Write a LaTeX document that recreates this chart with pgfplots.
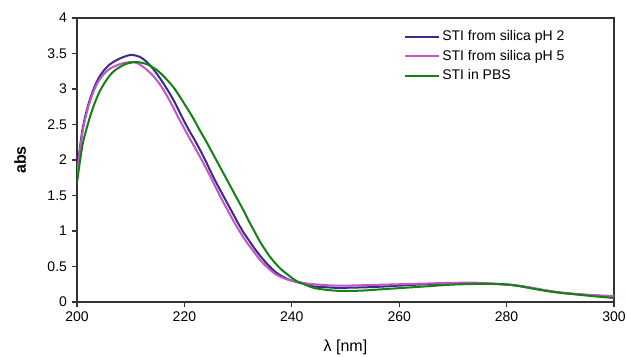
\documentclass[border=0pt]{standalone}
\usepackage{pgfplots}
\pgfplotsset{compat=1.18}
\usepackage{pgfplotstable}
\usepackage{fontspec}
\setmainfont{Liberation Sans}
\definecolor{cblue}{HTML}{3A2A90}
\definecolor{cpink}{HTML}{C455C4}
\definecolor{cgreen}{HTML}{138213}

\pgfplotstableread{
x y
200 1.84
201 2.42
202 2.75
203 2.98
204 3.15
205 3.26
206 3.34
207 3.39
208 3.43
209 3.46
210 3.48
211 3.47
212 3.44
213 3.38
214 3.30
215 3.20
216 3.09
217 2.97
218 2.84
219 2.69
220 2.54
221 2.40
222 2.27
223 2.13
224 1.98
225 1.82
226 1.67
227 1.53
228 1.39
229 1.25
230 1.11
231 0.98
232 0.87
233 0.76
234 0.66
235 0.57
236 0.49
237 0.42
238 0.37
239 0.33
240 0.30
242 0.26
244 0.22
246 0.21
248 0.20
250 0.20
255 0.21
260 0.23
265 0.25
270 0.26
275 0.26
280 0.245
283 0.22
286 0.18
290 0.13
295 0.10
300 0.075
}\bluedata

\pgfplotstableread{
x y
200 1.80
201 2.38
202 2.72
203 2.95
204 3.11
205 3.21
206 3.28
207 3.32
208 3.35
209 3.37
210 3.38
211 3.37
212 3.33
213 3.27
214 3.20
215 3.11
216 3.00
217 2.87
218 2.73
219 2.58
220 2.44
221 2.30
222 2.17
223 2.03
224 1.89
225 1.74
226 1.59
227 1.44
228 1.30
229 1.16
230 1.03
231 0.91
232 0.80
233 0.70
234 0.60
235 0.52
236 0.45
237 0.39
238 0.35
239 0.32
240 0.30
242 0.27
244 0.25
246 0.24
248 0.23
250 0.23
255 0.24
260 0.25
265 0.26
270 0.27
275 0.27
280 0.245
283 0.22
286 0.18
290 0.135
295 0.10
300 0.085
}\pinkdata

\pgfplotstableread{
x y
200 1.68
201 2.20
202 2.50
203 2.74
204 2.93
205 3.07
206 3.18
207 3.26
208 3.31
209 3.35
210 3.37
211 3.38
212 3.37
213 3.35
214 3.31
215 3.26
216 3.19
217 3.11
218 3.02
219 2.91
220 2.79
221 2.67
222 2.54
223 2.40
224 2.27
225 2.13
226 1.99
227 1.85
228 1.71
229 1.57
230 1.43
231 1.29
232 1.14
233 1.00
234 0.86
235 0.74
236 0.63
237 0.54
238 0.46
239 0.40
240 0.34
241 0.29
242 0.26
244 0.20
246 0.175
248 0.16
250 0.155
253 0.16
256 0.175
260 0.195
265 0.22
270 0.245
275 0.255
278 0.255
281 0.24
284 0.20
287 0.16
290 0.13
295 0.09
300 0.055
}\greendata

\begin{document}
\begin{tikzpicture}[x=0.75pt,y=0.75pt]
\begin{axis}[
  name=ax,
  scale only axis,
  width=402.75pt, height=213pt,
  xmin=200, xmax=300, ymin=0, ymax=4,
  xtick={200,220,...,300},
  ytick={0,0.5,...,4},
  tick align=outside,
  tick pos=left,
  major tick length=4pt,
  axis line style={line width=1pt, black!80},
  every tick/.style={black!80, line width=0.8pt},
  font=\fontsize{10.5}{12}\selectfont,
  /pgf/number format/assume math mode=true,
  yticklabel style={/pgf/number format/fixed, /pgf/number format/precision=1},
  xticklabel style={/pgf/number format/1000 sep={}},
  ylabel={\bfseries abs},
  ylabel style={at={(axis description cs:-0.106,0.5)}, anchor=center, font=\fontsize{12}{14}\selectfont},
  xlabel={λ [nm]},
  xlabel style={at={(axis description cs:0.5,-0.16)}, anchor=center, font=\fontsize{12}{14}\selectfont},
  legend style={draw=none, fill=none, at={(axis description cs:0.609,0.975)}, anchor=north west,
    font=\fontsize{10.5}{12}\selectfont, row sep=1.5pt, inner xsep=0pt},
  legend cell align=left,
  legend image code/.code={\draw[#1] (0pt,0pt) -- (25pt,0pt);},
]
\addplot[cblue, line width=1.5pt, smooth, tension=0.5] table {\bluedata};
\addlegendentry{STI from silica pH 2}
\addplot[cpink, line width=1.5pt, smooth, tension=0.5] table {\pinkdata};
\addlegendentry{STI from silica pH 5}
\addplot[cgreen, line width=1.5pt, smooth, tension=0.5] table {\greendata};
\addlegendentry{STI in PBS}
\end{axis}
\pgfresetboundingbox
\path (ax.south west) ++(-57.75pt,-41.25pt) coordinate (bl);
\path (ax.north east) ++(9.75pt,13.5pt) coordinate (tr);
\path[use as bounding box] (bl) rectangle (tr);
\end{tikzpicture}
\end{document}
